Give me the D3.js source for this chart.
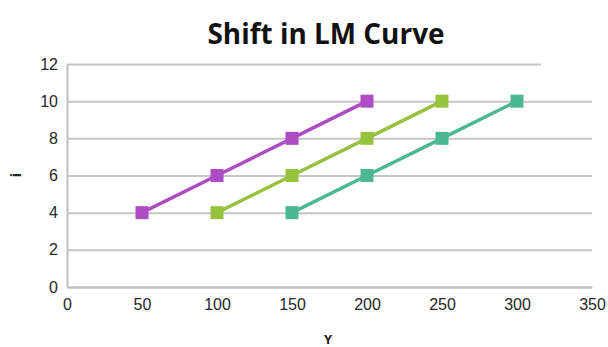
<!DOCTYPE html>
<html>
<head>
  <title>Shift in LM Curve</title>
  <script src="https://d3js.org/d3.v7.min.js"></script>
  <style>
    body { margin: 0; background: #fff; }
  </style>
</head>
<body>

<div id="chart"></div>

<script>
// data
const yValues = [50, 100, 150, 200, 250, 300];
const lm1 = [[50, 4], [100, 6], [150, 8], [200, 10]];
const lm2 = [[100, 4], [150, 6], [200, 8], [250, 10]];
const lm3 = [[150, 4], [200, 6], [250, 8], [300, 10]];
const seriesColors = ["#ad4cc3", "#97c23d", "#4cb893"];
const xTicks = [0, 50, 100, 150, 200, 250, 300, 350];
const yTicks = [0, 2, 4, 6, 8, 10, 12];

const W = 608, H = 347;
const margin = { top: 64, right: 16, bottom: 60, left: 67 };
const width = W - margin.left - margin.right;
const height = H - margin.top - margin.bottom;

const svg = d3.select("#chart")
  .append("svg")
  .attr("width", W)
  .attr("height", H)
  .style("font-family", "'Open Sans', sans-serif");

svg.append("text")
  .attr("x", 326)
  .attr("y", 44)
  .attr("text-anchor", "middle")
  .attr("font-size", 29)
  .attr("font-weight", "bold")
  .attr("fill", "#111")
  .attr("textLength", 237)
  .attr("lengthAdjust", "spacingAndGlyphs")
  .text("Shift in LM Curve");

const g = svg.append("g")
  .attr("transform", `translate(${margin.left},${margin.top})`);

const x = d3.scaleLinear().domain([0, 350]).range([0, width]);
const y = d3.scaleLinear().domain([0, 12]).range([height, 0]);

// gridlines
const grid = g.append("g")
  .call(d3.axisLeft(y).tickValues(yTicks).tickSize(-width).tickFormat(""));
grid.select(".domain").remove();
grid.selectAll("line")
  .attr("stroke", "#c6c6c6")
  .attr("stroke-width", 2);
// top line is shorter in the original
grid.selectAll(".tick").filter(d => d === 12).select("line")
  .attr("x2", x(316));

// y axis
const yAxis = g.append("g")
  .call(d3.axisLeft(y).tickValues(yTicks).tickSize(0).tickPadding(9));
yAxis.select(".domain").attr("stroke", "#c0c0c0").attr("stroke-width", 2);
yAxis.selectAll("text")
  .attr("font-size", 16)
  .attr("fill", "#262626");

// x axis
const xAxis = g.append("g")
  .attr("transform", `translate(0,${height})`)
  .call(d3.axisBottom(x).tickValues(xTicks).tickSize(0).tickPadding(12));
xAxis.select(".domain").attr("stroke", "#c0c0c0").attr("stroke-width", 2);
xAxis.selectAll("text")
  .attr("font-size", 16)
  .attr("fill", "#262626");

// axis titles
svg.append("text")
  .attr("x", 328)
  .attr("y", 344)
  .attr("text-anchor", "middle")
  .attr("font-size", 13)
  .attr("font-weight", "bold")
  .attr("fill", "#222")
  .text("Y");

svg.append("text")
  .attr("transform", "translate(21,175) rotate(-90)")
  .attr("text-anchor", "middle")
  .attr("font-size", 14)
  .attr("font-weight", "bold")
  .attr("fill", "#222")
  .text("i");

// series
const line = d3.line()
  .x(d => x(d[0]))
  .y(d => y(d[1]));

[lm1, lm2, lm3].forEach((s, i) => {
  g.append("path")
    .datum(s)
    .attr("fill", "none")
    .attr("stroke", seriesColors[i])
    .attr("stroke-width", 3.5)
    .attr("d", line);

  g.selectAll(".m" + i)
    .data(s)
    .join("rect")
    .attr("x", d => x(d[0]) - 6.5)
    .attr("y", d => y(d[1]) - 6.5)
    .attr("width", 13)
    .attr("height", 13)
    .attr("fill", seriesColors[i]);
});
</script>

</body>
</html>
